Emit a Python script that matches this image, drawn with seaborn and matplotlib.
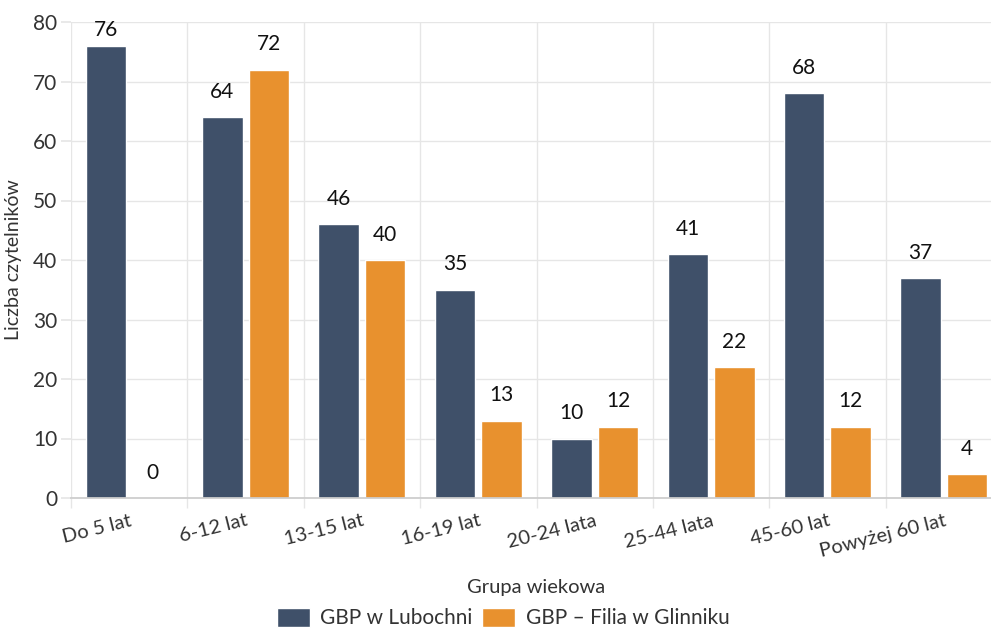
import numpy as np
import pandas as pd
import seaborn as sns
from matplotlib import pyplot as plt
from matplotlib.ticker import FixedLocator

categories = ['Do 5 lat', '6-12 lat', '13-15 lat', '16-19 lat',
              '20-24 lata', '25-44 lata', '45-60 lat', 'Powyżej 60 lat']
lubochnia = [76, 64, 46, 35, 10, 41, 68, 37]
glinnik = [0, 72, 40, 13, 12, 22, 12, 4]
series_names = ['GBP w Lubochni', 'GBP – Filia w Glinniku']
colors = ['#3f5069', '#e8912e']

df = pd.DataFrame({
    'grupa': categories * 2,
    'liczba': lubochnia + glinnik,
    'seria': [series_names[0]] * len(categories) + [series_names[1]] * len(categories),
})

sns.set_theme(style='white')
plt.rcParams['font.family'] = ['Lato', 'DejaVu Sans']

fig = plt.figure(figsize=(9.91, 6.28), dpi=100)
ax = fig.add_axes([71 / 991, 1 - 498 / 628, (1002 - 71) / 991, (498 - 22) / 628])

sns.barplot(df, x='grupa', y='liczba', hue='seria', palette=colors,
            width=0.8, gap=0.13, saturation=1, ax=ax, legend=True)

ymax = 80
for bars in ax.containers:
    labels = ax.bar_label(bars, fmt='%d', padding=11, fontsize=15, color='#111111')
    # labels that would leave the plot area are pulled down inside it
    for bar, lbl in zip(bars, labels):
        if bar.get_height() > ymax - 6:
            lbl.xyann = (0, 4)

ax.set_ylim(0, ymax)
ax.set_xlim(-0.5, len(categories) - 0.5)
ax.set_yticks(range(0, ymax + 1, 10))
ax.xaxis.set_minor_locator(FixedLocator(np.arange(-0.5, len(categories), 1)))
ax.grid(axis='y', color='#e6e6e6', linewidth=1)
ax.grid(axis='x', which='minor', color='#e6e6e6', linewidth=1)
ax.set_axisbelow(True)
for side in ['top', 'right', 'left']:
    ax.spines[side].set_visible(False)
ax.spines['bottom'].set_color('#cccccc')

ax.tick_params(axis='y', length=7, color='#e6e6e6', labelsize=15, labelcolor='#333333', left=True, pad=3)
ax.tick_params(axis='x', which='major', length=0, labelsize=14.5, labelcolor='#333333', pad=10)
ax.tick_params(axis='x', which='minor', length=7, color='#e6e6e6', bottom=True)
ax.set_xticks(range(len(categories)))
ax.set_xticklabels(categories)
for lbl in ax.get_xticklabels():
    lbl.set_rotation(14)
    lbl.set_horizontalalignment('right')
    lbl.set_rotation_mode('anchor')

ax.set_xlabel('Grupa wiekowa', fontsize=14.5, color='#333333', labelpad=14)
ax.set_ylabel('Liczba czytelników', fontsize=14, color='#333333', labelpad=8)

ax.legend(loc='upper center', bbox_to_anchor=(0.464, -0.209), ncol=2, frameon=False,
          fontsize=15, handlelength=1.6, handleheight=1.0, handletextpad=0.5,
          columnspacing=0.45, labelcolor='#333333', borderpad=0)

fig.savefig('out.png', dpi=100)
